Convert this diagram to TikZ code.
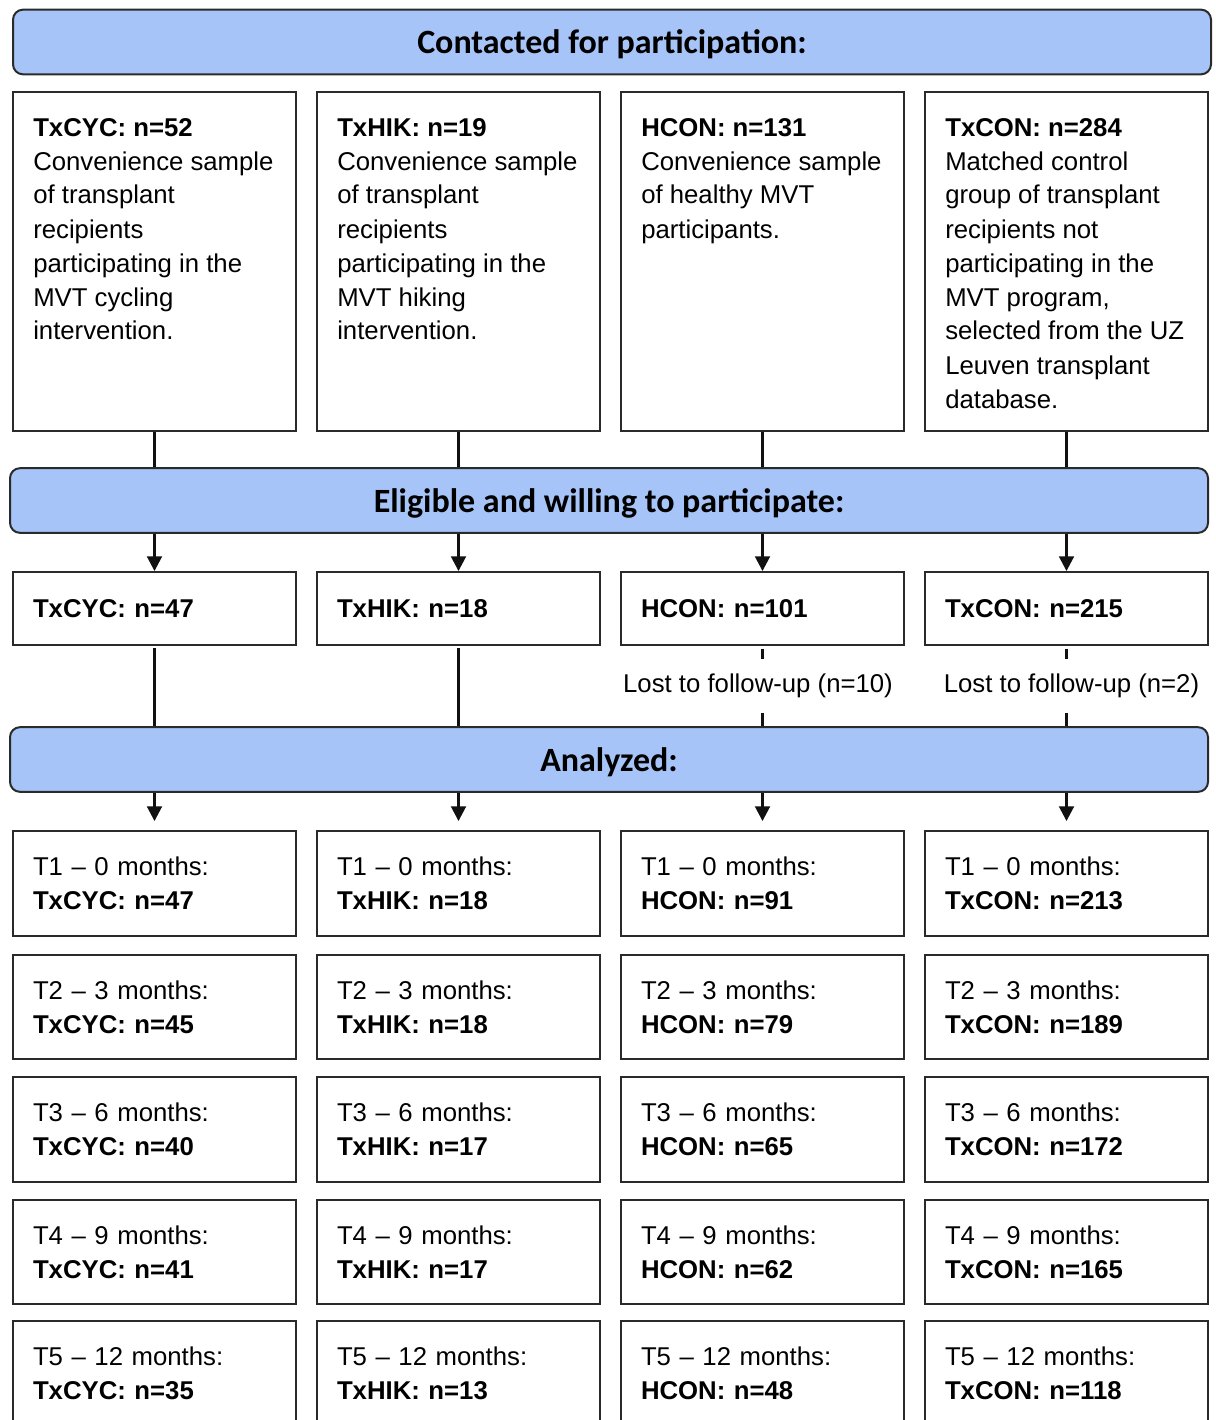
\documentclass[tikz,border=0pt]{standalone}
\usepackage{fontspec}
\setmainfont{Liberation Sans}
\newfontfamily\bannerfont{Carlito}
\usetikzlibrary{arrows.meta}
\definecolor{bannerblue}{HTML}{A6C4F7}
\definecolor{edge}{HTML}{2A2A2A}
\definecolor{linecol}{HTML}{111111}
\newcommand\txtfont{\fontsize{19.3pt}{25.5pt}\selectfont}
\begin{document}
\begin{tikzpicture}[x=0.75pt,y=-0.75pt,
  banner/.style={draw=edge, line width=1.5pt, fill=bannerblue, rounded corners=7.5pt,
    minimum width=898.5pt, minimum height=48.5pt, inner sep=0pt,
    text height=20pt, text depth=2pt,
    font=\bannerfont\bfseries\fontsize{25.5pt}{30pt}\selectfont},
  box/.style={draw=edge, line width=1.4pt, minimum width=212.25pt, inner sep=0pt,
    text width=182.25pt, align=left, font=\txtfont},
  desc/.style={anchor=base west, inner sep=0pt, font=\txtfont},
  lost/.style={inner xsep=0pt, inner ysep=11pt, font=\txtfont},
  conn/.style={draw=linecol, line width=2pt},
  arr/.style={conn, -{Triangle[length=11pt,width=11pt]}}]
\useasboundingbox (0,0) rectangle (1215,1420);
\clip (0,0) rectangle (1215,1420);

% banners
\node[banner] (ban1) at (612,42) {Contacted for participation:};
\node[banner] (ban2) at (609,500.5) {Eligible and willing to participate:};
\node[banner] (ban3) at (609,759.5) {Analyzed:};

% row 1
\foreach \c/\xc in {1/154.5,2/458.5,3/762.5,4/1066.5}
  \node[box, minimum height=254.25pt] (r1c\c) at (\xc,261.5) {};
\node[desc] (d1) at (33,136) {\parbox[t]{190pt}{\textbf{TxCYC: n=52}\\Convenience sample\\of transplant\\recipients\\participating in the\\MVT cycling\\intervention.}};
\node[desc] (d2) at (337,136) {\parbox[t]{190pt}{\textbf{TxHIK: n=19}\\Convenience sample\\of transplant\\recipients\\participating in the\\MVT hiking\\intervention.}};
\node[desc] (d3) at (641,136) {\parbox[t]{190pt}{\textbf{HCON: n=131}\\Convenience sample\\of healthy MVT\\participants.}};
\node[desc] (d4) at (945,136) {\parbox[t]{190pt}{\textbf{TxCON: n=284}\\Matched control\\group of transplant\\recipients not\\participating in the\\MVT program,\\selected from the UZ\\Leuven transplant\\database.}};

% row 2
\node[box, minimum height=54.75pt] (r2c1) at (154.5,608.5) {\textbf{TxCYC: n=47}};
\node[box, minimum height=54.75pt] (r2c2) at (458.5,608.5) {\textbf{TxHIK: n=18}};
\node[box, minimum height=54.75pt] (r2c3) at (762.5,608.5) {\textbf{HCON: n=101}};
\node[box, minimum height=54.75pt] (r2c4) at (1066.5,608.5) {\textbf{TxCON: n=215}};

% lost to follow-up
\node[lost] (lost3) at (758,686) {Lost to follow-up (n=10)};
\node[lost] (lost4) at (1071.5,686) {Lost to follow-up (n=2)};

% time rows
\foreach \r/\yc/\h/\lab/\a/\b/\cc/\d in {
  1/883.5/78.75pt/T1 \textendash\ 0 months:/47/18/91/213,
  2/1007/78pt/T2 \textendash\ 3 months:/45/18/79/189,
  3/1129.5/78.75pt/T3 \textendash\ 6 months:/40/17/65/172,
  4/1252/78pt/T4 \textendash\ 9 months:/41/17/62/165,
  5/1373/78pt/T5 \textendash\ 12 months:/35/13/48/118}{
  \node[box, minimum height=\h] (t\r c1) at (154.5,\yc) {\lab\\\textbf{TxCYC: n=\a}};
  \node[box, minimum height=\h] (t\r c2) at (458.5,\yc) {\lab\\\textbf{TxHIK: n=\b}};
  \node[box, minimum height=\h] (t\r c3) at (762.5,\yc) {\lab\\\textbf{HCON: n=\cc}};
  \node[box, minimum height=\h] (t\r c4) at (1066.5,\yc) {\lab\\\textbf{TxCON: n=\d}};
}

% connectors
\foreach \c in {1,2,3,4}{
  \draw[conn] (r1c\c.south) -- (r1c\c.south |- ban2.north);
  \draw[arr] (ban2.south -| r2c\c) -- (r2c\c.north);
  \draw[arr, shorten >=6.75pt] (ban3.south -| t1c\c) -- (t1c\c.north);
}
\draw[conn] (r2c1.south) ++(0,2) -- (r2c1.south |- ban3.north);
\draw[conn] (r2c2.south) ++(0,2) -- (r2c2.south |- ban3.north);
\draw[conn, shorten <=2pt] (r2c3.south) -- (r2c3.south |- lost3.north);
\draw[conn] (r2c3.south |- lost3.south) -- (r2c3.south |- ban3.north);
\draw[conn, shorten <=2pt] (r2c4.south) -- (r2c4.south |- lost4.north);
\draw[conn] (r2c4.south |- lost4.south) -- (r2c4.south |- ban3.north);
\end{tikzpicture}
\end{document}
